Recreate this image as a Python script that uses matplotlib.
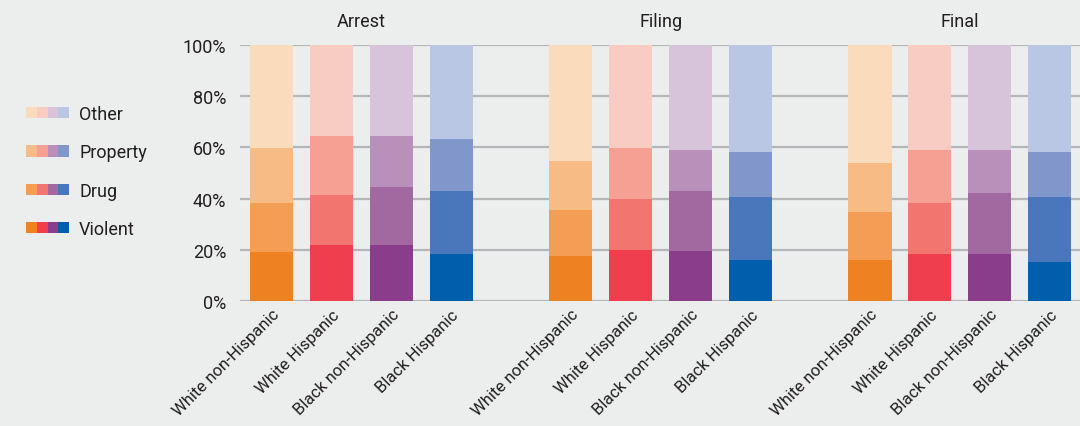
import numpy as np
import matplotlib.pyplot as plt
from matplotlib.patches import Patch
from matplotlib.legend_handler import HandlerTuple

stages = ["Arrest", "Filing", "Final"]
groups = ["White non-Hispanic", "White Hispanic", "Black non-Hispanic", "Black Hispanic"]
offenses = ["Violent", "Drug", "Property", "Other"]

# percent shares, one row per stage, one column per group
violent = [[19.1, 21.7, 21.7, 18.2],
           [17.4, 19.8, 19.4, 15.9],
           [15.9, 18.2, 18.2, 15.1]]
drug = [[19.0, 19.9, 23.0, 24.9],
        [18.3, 20.2, 23.7, 24.9],
        [19.0, 19.9, 24.1, 25.7]]
prop = [[21.8, 22.7, 19.6, 20.3],
        [19.1, 19.9, 16.0, 17.5],
        [19.1, 21.0, 16.8, 17.5]]
other = [[40.1, 35.7, 35.7, 36.6],
         [45.2, 40.1, 40.9, 41.7],
         [46.0, 40.9, 40.9, 41.7]]

# colours per group, dark (violent) -> light (other)
palette = [
    ["#EE8122", "#F39D55", "#F7BC86", "#FADCBD"],
    ["#EF3F4F", "#F27570", "#F69F93", "#F9CCC3"],
    ["#8A3D8A", "#A169A0", "#B890BA", "#D7C3DA"],
    ["#005EAD", "#4A76BC", "#8196CB", "#B9C6E4"],
]

plt.rcParams['font.family'] = ['Roboto', 'DejaVu Sans']
txt = "#231F20"
bg = "#ECEDED"

fig = plt.figure(figsize=(10.8, 4.27), dpi=100, facecolor=bg)
ax = fig.add_axes([0.2222, 0.2927, 0.7778, 0.5995], facecolor=bg)

series = [violent, drug, prop, other]
xticks, xlabels = [], []
for s, stage in enumerate(stages):
    for g, grp in enumerate(groups):
        x = s * 5 + g
        bottom = 0
        for k in range(4):
            v = series[k][s][g]
            ax.bar(x, v, bottom=bottom, width=0.72, color=palette[g][k], linewidth=0)
            bottom += v
        xticks.append(x)
        xlabels.append(grp)
    ax.text(s * 5 + 1.5, 1.095, stage, transform=ax.get_xaxis_transform(),
            ha="center", va="center", fontsize=13, color=txt)

ax.set_xlim(-0.53, 13.51)
ax.set_ylim(0, 100)
ax.set_yticks(np.arange(0, 101, 20))
ax.set_yticklabels([f"{v}%" for v in range(0, 101, 20)], fontsize=13, color=txt)
ax.set_xticks(xticks)
ax.set_xticklabels(xlabels, rotation=45, ha="right", rotation_mode="anchor",
                   fontsize=12, color=txt)
ax.tick_params(length=0, pad=10)
ax.tick_params(axis="x", pad=4)
ax.yaxis.grid(True, color="#B5B6B8", linewidth=1.6)
ax.set_axisbelow(True)
for sp in ax.spines.values():
    sp.set_visible(False)

handles = []
for k in range(3, -1, -1):
    handles.append(tuple(Patch(facecolor=palette[g][k], linewidth=0) for g in range(4)))
fig.legend(handles, offenses[::-1], handler_map={tuple: HandlerTuple(ndivide=None, pad=0)},
           loc="upper left", bbox_to_anchor=(0.009, 0.79), frameon=False,
           fontsize=13, handlelength=2.4, handleheight=0.6, handletextpad=0.55,
           labelspacing=1.13, labelcolor=txt)

fig.savefig("out.png", dpi=100, facecolor=bg)
